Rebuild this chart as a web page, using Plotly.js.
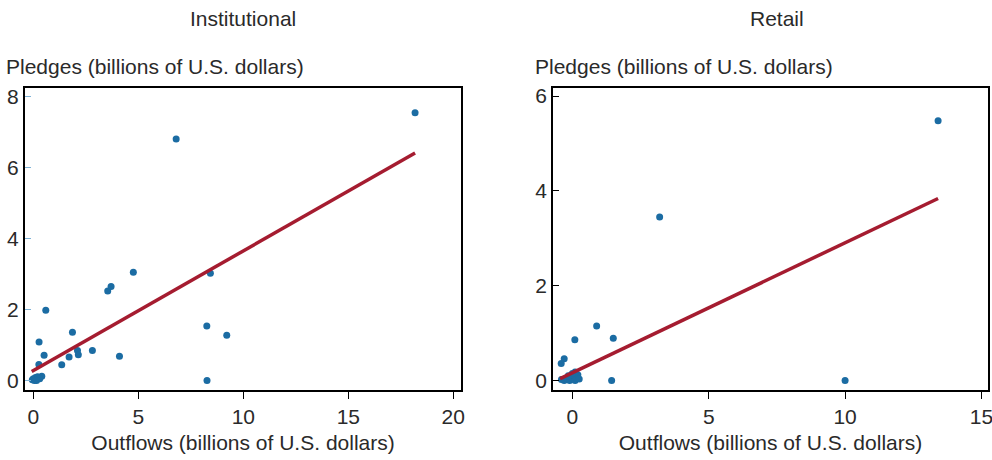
<!DOCTYPE html>
<html>
<head>
<meta charset="utf-8">
<script src="https://cdn.plot.ly/plotly-3.0.1.min.js"></script>
<style>html,body{margin:0;padding:0;background:#fff;}#chart{width:992px;height:460px;}</style>
</head>
<body>
<div id="chart"></div>
<script>
// Institutional panel
const instOutflows = [18.18, 6.8, 4.76, 8.43, 3.54, 3.7, 0.59, 0.27, 1.86, 8.26, 9.21, 0.51, 2.1, 2.14, 1.7, 2.81, 4.1, 1.35, 8.27, 0.26, 0.0, 0.1, 0.4, 0.2, 0.05, -0.05, 0.3, 0.15];
const instPledges  = [7.54, 6.8, 3.05, 3.02, 2.52, 2.65, 1.98, 1.08, 1.36, 1.53, 1.27, 0.71, 0.84, 0.72, 0.66, 0.84, 0.68, 0.44, 0.0, 0.45, 0.05, 0.08, 0.12, 0.1, 0.0, 0.02, 0.05, 0.0];
const instFitX = [-0.08, 18.18];
const instFitY = [0.25, 6.41];

// Retail panel
const retOutflows = [13.41, 3.2, 10.0, 0.89, 1.5, 0.09, 1.44, -0.3, -0.41, -0.4, -0.3, -0.2, -0.1, 0.0, 0.05, 0.1, 0.15, 0.2, 0.1, 0.0, 0.25, -0.15];
const retPledges  = [5.48, 3.45, 0.0, 1.15, 0.89, 0.86, 0.0, 0.46, 0.36, 0.02, 0.0, 0.05, 0.0, 0.03, 0.1, 0.0, 0.05, 0.12, 0.18, 0.15, 0.03, 0.1];
const retFitX = [-0.45, 13.41];
const retFitY = [0.04, 3.84];

const panelTitles = ["Institutional", "Retail"];
const yTitle = "Pledges (billions of U.S. dollars)";
const xTitle = "Outflows (billions of U.S. dollars)";

const dotColor = "#1b6ca3";
const lineColor = "#a51c30";
const font = {family: "Liberation Sans, Arial, sans-serif", size: 21, color: "#2a2a2a"};

const traces = [
  {x: instOutflows, y: instPledges, type: "scatter", mode: "markers", marker: {color: dotColor, size: 7}, xaxis: "x", yaxis: "y", hoverinfo: "x+y"},
  {x: instFitX, y: instFitY, type: "scatter", mode: "lines", line: {color: lineColor, width: 3.5}, xaxis: "x", yaxis: "y"},
  {x: retOutflows, y: retPledges, type: "scatter", mode: "markers", marker: {color: dotColor, size: 7}, xaxis: "x2", yaxis: "y2"},
  {x: retFitX, y: retFitY, type: "scatter", mode: "lines", line: {color: lineColor, width: 3.5}, xaxis: "x2", yaxis: "y2"}
];

const axBase = {showgrid: false, zeroline: false, showline: true, mirror: true, linecolor: "#000", linewidth: 2, tickfont: font, ticklabeloverflow: "allow"};
const xBase = Object.assign({}, axBase, {ticks: "outside", ticklen: 7, tickwidth: 1, tickcolor: "#000", title: {text: xTitle, font: font, standoff: 8}});

const layout = {
  width: 992, height: 460,
  margin: {l: 25, r: 4, t: 88, b: 70},
  paper_bgcolor: "#fff", plot_bgcolor: "#fff",
  showlegend: false,
  font: font,
  xaxis: Object.assign({}, xBase, {domain: [0, 0.4528], range: [-0.4, 20.37], tickvals: [0, 5, 10, 15, 20], anchor: "y"}),
  yaxis: Object.assign({}, axBase, {domain: [0, 1], range: [-0.27, 8.24], tickvals: [0, 2, 4, 6, 8], ticks: "inside", ticklen: 6, tickwidth: 1, tickcolor: "#7fb2d6", anchor: "x"}),
  xaxis2: Object.assign({}, xBase, {domain: [0.5483, 1], range: [-0.71, 15.24], tickvals: [0, 5, 10, 15], anchor: "y2"}),
  yaxis2: Object.assign({}, axBase, {domain: [0, 1], range: [-0.2, 6.17], tickvals: [0, 2, 4, 6], ticks: "inside", ticklen: 6, tickwidth: 1, tickcolor: "#000", anchor: "x2"}),
  annotations: [
    {text: panelTitles[0], xref: "x domain", yref: "paper", x: 0.5, y: 1, yshift: 70, xanchor: "center", yanchor: "middle", showarrow: false, font: font},
    {text: panelTitles[1], xref: "x2 domain", yref: "paper", x: 0.5, xshift: 6, y: 1, yshift: 70, xanchor: "center", yanchor: "middle", showarrow: false, font: font},
    {text: yTitle, xref: "paper", yref: "paper", x: 0, xshift: -21, y: 1, yshift: 22, xanchor: "left", yanchor: "middle", showarrow: false, font: font},
    {text: yTitle, xref: "x2 domain", yref: "paper", x: 0, xshift: -20, y: 1, yshift: 22, xanchor: "left", yanchor: "middle", showarrow: false, font: font}
  ]
};

Plotly.newPlot("chart", traces, layout, {displayModeBar: false, staticPlot: true});
</script>
</body>
</html>
